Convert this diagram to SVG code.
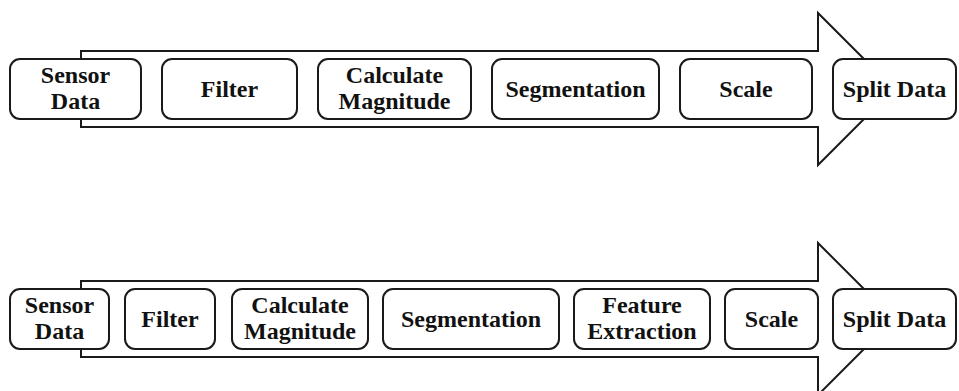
<svg xmlns="http://www.w3.org/2000/svg" width="959" height="391" viewBox="0 0 959 391">
<style>
.arrow{fill:#fff;stroke:#1a1a1a;stroke-width:2;stroke-linejoin:miter}
.box{fill:#fff;stroke:#1a1a1a;stroke-width:2}
text{font-weight:bold;font-size:24px;fill:#111;text-anchor:middle}
</style>
<rect width="959" height="391" fill="#fff"/>
<g id="connectors">
<path class="arrow" d="M81,51 H818 V13 L894,89 L818,165 V127 H81 Z"/>
<path class="arrow" d="M81,281 H818 V243 L894,319 L818,395 V357 H81 Z"/>
</g>
<g font-family="Liberation Serif, serif">
<g id="top-sensor"><rect class="box" x="10" y="59" width="131" height="60" rx="10"/><text x="75.5" y="83">Sensor</text><text x="75.5" y="109">Data</text></g>
<g id="top-filter"><rect class="box" x="162" y="59" width="135" height="60" rx="10"/><text x="229.5" y="97">Filter</text></g>
<g id="top-calc"><rect class="box" x="318" y="59" width="153" height="60" rx="10"/><text x="394.5" y="83">Calculate</text><text x="394.5" y="109">Magnitude</text></g>
<g id="top-seg"><rect class="box" x="492" y="59" width="167" height="60" rx="10"/><text x="575.5" y="97">Segmentation</text></g>
<g id="top-scale"><rect class="box" x="680" y="59" width="132" height="60" rx="10"/><text x="746" y="97">Scale</text></g>
<g id="top-split"><rect class="box" x="833" y="59" width="123" height="60" rx="10"/><text x="894.5" y="97">Split Data</text></g>
<g id="bot-sensor"><rect class="box" x="10" y="289" width="99" height="60" rx="10"/><text x="59.5" y="313">Sensor</text><text x="59.5" y="339">Data</text></g>
<g id="bot-filter"><rect class="box" x="125" y="289" width="90" height="60" rx="10"/><text x="170" y="327">Filter</text></g>
<g id="bot-calc"><rect class="box" x="232" y="289" width="136" height="60" rx="10"/><text x="300" y="313">Calculate</text><text x="300" y="339">Magnitude</text></g>
<g id="bot-seg"><rect class="box" x="383" y="289" width="176" height="60" rx="10"/><text x="471" y="327">Segmentation</text></g>
<g id="bot-feat"><rect class="box" x="574" y="289" width="136" height="60" rx="10"/><text x="642" y="313">Feature</text><text x="642" y="339">Extraction</text></g>
<g id="bot-scale"><rect class="box" x="725" y="289" width="93" height="60" rx="10"/><text x="771.5" y="327">Scale</text></g>
<g id="bot-split"><rect class="box" x="833" y="289" width="123" height="60" rx="10"/><text x="894.5" y="327">Split Data</text></g>
</g>
</svg>
